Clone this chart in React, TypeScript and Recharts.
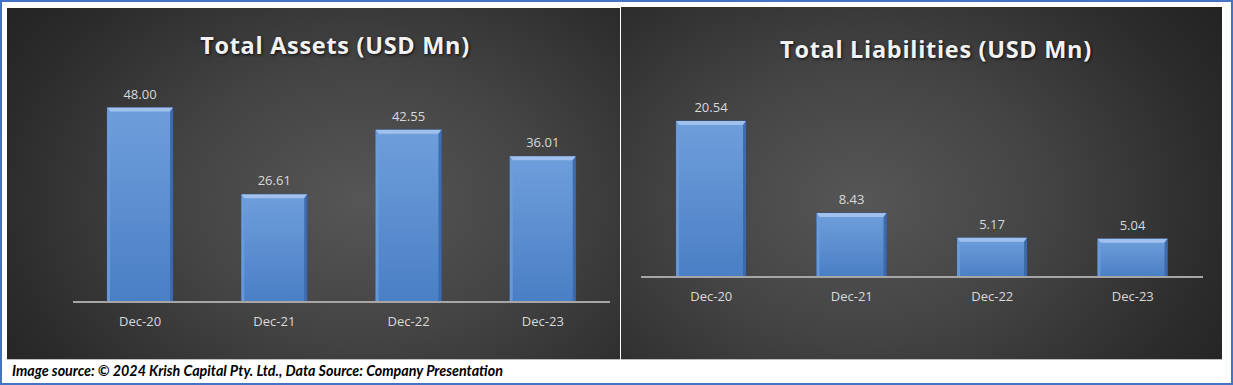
import React from "react";
import { BarChart, Bar, XAxis, YAxis, LabelList } from "recharts";

const categories = ["Dec-20", "Dec-21", "Dec-22", "Dec-23"];
const assetsValues = [48.0, 26.61, 42.55, 36.01];
const liabilitiesValues = [20.54, 8.43, 5.17, 5.04];
const assetsTitle = "Total Assets (USD Mn)";
const liabilitiesTitle = "Total Liabilities (USD Mn)";
const footerText =
  "Image source: © 2024 Krish Capital Pty. Ltd., Data Source: Company Presentation";

const assetsData = categories.map((c, i) => ({ name: c, value: assetsValues[i] }));
const liabilitiesData = categories.map((c, i) => ({ name: c, value: liabilitiesValues[i] }));

const FONT = "'Open Sans', 'Liberation Sans', sans-serif";

const BevelBar = (props: any) => {
  const { x, y, width, height } = props;
  if (!width || !height) return null;
  const b = Math.min(4, height / 2);
  const s = 3;
  return (
    <g>
      <rect x={x} y={y} width={width} height={height} fill="url(#barGrad)" stroke="#2e4f86" strokeWidth={0.6} />
      <polygon
        points={`${x},${y} ${x + width},${y} ${x + width - s},${y + b} ${x + s},${y + b}`}
        fill="#a9c8f0"
        opacity={0.85}
      />
      <polygon
        points={`${x},${y} ${x + s},${y + b} ${x + s},${y + height} ${x},${y + height}`}
        fill="#6e9ddb"
        opacity={0.8}
      />
      <polygon
        points={`${x + width},${y} ${x + width - s},${y + b} ${x + width - s},${y + height} ${x + width},${y + height}`}
        fill="#3b67a8"
        opacity={0.9}
      />
    </g>
  );
};

const Defs = () => (
  <defs>
    <linearGradient id="barGrad" x1="0" y1="0" x2="0" y2="1">
      <stop offset="0%" stopColor="#6f9edb" />
      <stop offset="100%" stopColor="#4a7fc5" />
    </linearGradient>
  </defs>
);

const panelStyle = (left: number, top: number, w: number, h: number, cx: string, cy: string): React.CSSProperties => ({
  position: "absolute",
  left,
  top,
  width: w,
  height: h,
  background: `radial-gradient(ellipse 75% 95% at ${cx} ${cy}, #565656 0%, #444444 40%, #2b2b2b 80%, #222222 100%)`,
  boxShadow: "0 1px 0 #bdbdbd",
});

const titleStyle = (left: number, top: number, w: number): React.CSSProperties => ({
  position: "absolute",
  left,
  top,
  width: w,
  textAlign: "center",
  fontFamily: FONT,
  fontWeight: 700,
  fontSize: 23.5,
  color: "#f2f2f2",
  letterSpacing: 0.7,
  textShadow: "1px 1px 3px rgba(0,0,0,0.8)",
  lineHeight: "30px",
  whiteSpace: "nowrap",
});

export default function App() {
  return (
    <div
      style={{
        position: "absolute",
        left: 0,
        top: 0,
        width: 1233,
        height: 385,
        background: "#ffffff",
        overflow: "hidden",
      }}
    >
      <div
        style={{
          position: "absolute",
          left: 0,
          top: 0,
          width: 1229,
          height: 381,
          border: "2px solid #4472c4",
        }}
      />
      {/* Left panel */}
      <div style={panelStyle(7, 8, 613, 351, "58%", "55%")}>
        <BarChart
          width={613}
          height={351}
          data={assetsData}
          margin={{ top: 51, right: 10, left: 66, bottom: 0 }}
          barSize={66}
        >
          <Defs />
          <XAxis
            dataKey="name"
            axisLine={{ stroke: "#a6a6a6", strokeWidth: 2 }}
            tickLine={false}
            tick={{ fill: "#d9d9d9", fontSize: 13, fontFamily: FONT }}
            tickMargin={9}
            height={57}
            interval={0}
          />
          <YAxis hide domain={[0, 60]} />
          <Bar dataKey="value" shape={<BevelBar />} isAnimationActive={false}>
            <LabelList
              dataKey="value"
              position="top"
              offset={9}
              formatter={(v: any) => Number(v).toFixed(2)}
              style={{ fill: "#d9d9d9", fontSize: 13, fontFamily: FONT }}
            />
          </Bar>
        </BarChart>
        <div style={titleStyle(0, 22, 656)}>{assetsTitle}</div>
      </div>
      {/* Right panel */}
      <div style={panelStyle(621, 7, 601, 352, "40%", "55%")}>
        <BarChart
          width={601}
          height={352}
          data={liabilitiesData}
          margin={{ top: 80, right: 19, left: 20, bottom: 0 }}
          barSize={70}
        >
          <Defs />
          <XAxis
            dataKey="name"
            axisLine={{ stroke: "#a6a6a6", strokeWidth: 2 }}
            tickLine={false}
            tick={{ fill: "#d9d9d9", fontSize: 13, fontFamily: FONT }}
            tickMargin={9}
            height={82}
            interval={0}
          />
          <YAxis hide domain={[0, 25]} />
          <Bar dataKey="value" shape={<BevelBar />} isAnimationActive={false}>
            <LabelList
              dataKey="value"
              position="top"
              offset={9}
              formatter={(v: any) => Number(v).toFixed(2)}
              style={{ fill: "#d9d9d9", fontSize: 13, fontFamily: FONT }}
            />
          </Bar>
        </BarChart>
        <div style={titleStyle(0, 27, 630)}>{liabilitiesTitle}</div>
      </div>
      {/* Footer */}
      <div
        style={{
          position: "absolute",
          left: 12,
          top: 361,
          fontFamily: "Lato, 'Open Sans', sans-serif",
          fontWeight: 700,
          fontStyle: "italic",
          fontSize: 14.3,
          color: "#000000",
          lineHeight: "19px",
          whiteSpace: "nowrap",
        }}
      >
        {footerText}
      </div>
    </div>
  );
}
